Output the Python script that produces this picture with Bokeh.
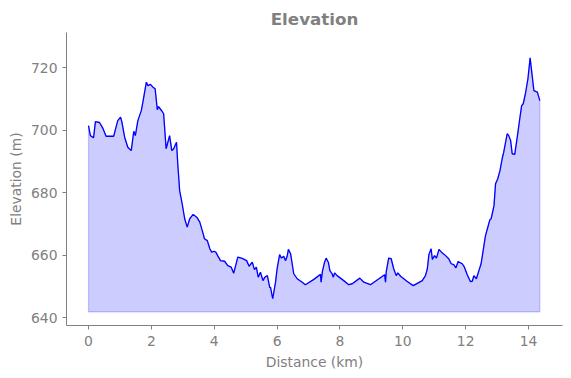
from bokeh.plotting import figure
from bokeh.models import Range1d, FixedTicker
from bokeh.embed import file_html
from bokeh.resources import INLINE

# Distance along the route (km) and elevation (m)
distance_km = [
    0.00, 0.06, 0.16, 0.22, 0.35, 0.45, 0.56, 0.80, 0.88, 0.93, 1.02, 1.06, 1.15, 1.25, 1.36,
    1.44, 1.49, 1.57, 1.68, 1.73, 1.84, 1.89, 1.97, 2.05, 2.12, 2.19, 2.23, 2.34, 2.39, 2.47,
    2.58, 2.65, 2.71, 2.80, 2.84, 2.90, 2.98, 3.06, 3.14, 3.22, 3.33, 3.46, 3.54, 3.62, 3.69,
    3.78, 3.86, 3.92, 3.99, 4.05, 4.11, 4.20, 4.33, 4.43, 4.54, 4.62, 4.75, 4.89, 5.03, 5.11,
    5.21, 5.28, 5.34, 5.40, 5.47, 5.55, 5.61, 5.69, 5.77, 5.79, 5.86, 5.95, 6.00, 6.08, 6.14,
    6.21, 6.27, 6.32, 6.36, 6.43, 6.48, 6.53, 6.64, 6.80, 6.90, 7.17, 7.38, 7.40, 7.44, 7.51,
    7.56, 7.63, 7.68, 7.75, 7.79, 7.83, 7.91, 8.12, 8.28, 8.39, 8.63, 8.76, 8.97, 9.24, 9.42,
    9.45, 9.47, 9.55, 9.63, 9.71, 9.79, 9.84, 9.93, 10.14, 10.33, 10.62, 10.72, 10.78, 10.83,
    10.90, 10.94, 11.01, 11.07, 11.15, 11.23, 11.36, 11.46, 11.54, 11.62, 11.69, 11.76, 11.89,
    11.96, 12.05, 12.15, 12.21, 12.26, 12.34, 12.42, 12.49, 12.58, 12.63, 12.69, 12.77, 12.81,
    12.90, 12.95, 13.02, 13.09, 13.16, 13.21, 13.32, 13.37, 13.43, 13.48, 13.56, 13.64, 13.72,
    13.78, 13.83, 13.90, 13.98, 14.05, 14.17, 14.28, 14.36,
]
elevation_m = [
    701.4, 698.2, 697.5, 702.7, 702.4, 700.7, 698.0, 698.0, 701.1, 703.0, 704.1, 702.7, 697.7, 694.5, 693.4,
    699.6, 698.2, 703.0, 706.2, 708.9, 715.3, 714.2, 714.6, 713.7, 713.2, 706.5, 707.5, 706.0, 705.2, 694.0,
    698.2, 693.4, 694.0, 696.1, 689.2, 680.6, 676.4, 671.6, 668.9, 671.6, 673.0, 671.9, 670.5, 667.8, 665.2,
    664.6, 662.0, 660.9, 661.2, 660.9, 659.8, 658.2, 658.0, 656.6, 656.1, 654.2, 659.3, 658.9, 658.2, 656.4,
    657.7, 655.3, 656.1, 652.9, 654.5, 651.8, 652.9, 653.4, 649.5, 649.7, 646.0, 651.3, 655.6, 660.1, 659.0,
    659.6, 658.2, 659.6, 661.8, 660.4, 657.2, 654.0, 652.4, 651.3, 650.5, 652.2, 653.8, 651.3, 654.7, 657.7,
    659.0, 657.7, 655.0, 654.0, 652.9, 654.3, 653.4, 651.8, 650.5, 650.8, 652.6, 651.3, 650.5, 652.4, 653.7,
    651.3, 654.5, 659.0, 658.8, 655.6, 653.4, 654.3, 653.2, 651.5, 650.2, 651.8, 653.4, 655.6, 660.2,
    662.0, 658.6, 659.8, 659.0, 661.8, 660.9, 659.8, 658.8, 657.2, 656.9, 655.9, 657.9, 657.2,
    656.1, 653.7, 651.5, 651.6, 653.4, 652.4, 655.0, 657.2, 663.0, 666.2, 668.4, 671.3, 671.6,
    675.8, 682.8, 684.4, 687.0, 690.8, 692.9, 698.8, 698.2, 696.6, 692.4, 692.2, 697.7, 703.6,
    707.8, 708.4, 711.6, 716.4, 723.1, 712.6, 712.1, 709.4,
]
fill_base_m = 641.8

x_ticks = [0, 2, 4, 6, 8, 10, 12, 14]
y_ticks = [640, 660, 680, 700, 720]

GRAY = "#808080"
FONT = "DejaVu Sans"

p = figure(
    width=571, height=378,
    output_backend="svg", toolbar_location=None,
    x_range=Range1d(-0.70, 15.08), y_range=Range1d(637.44, 731.2),
    min_border_left=66, min_border_right=9, min_border_top=32, min_border_bottom=53,
    title="Elevation",
)
p.outline_line_color = None
p.background_fill_color = "white"
p.border_fill_color = "white"
p.xgrid.visible = False
p.ygrid.visible = False

p.title.align = "center"
p.title.text_color = GRAY
p.title.text_font = FONT
p.title.text_font_size = "16.7px"
p.title.text_font_style = "bold"
p.title.offset = 0
p.title.standoff = 8

xs = [distance_km[0]] + distance_km + [distance_km[-1]]
ys = [fill_base_m] + elevation_m + [fill_base_m]
p.patch(xs, ys, fill_color="blue", fill_alpha=0.2, line_color="blue", line_alpha=0.2, line_width=1.2)
p.line(distance_km, elevation_m, line_color="blue", line_width=1.3)

for ax in (p.xaxis[0], p.yaxis[0]):
    ax.axis_line_color = GRAY
    ax.axis_line_width = 1
    ax.major_tick_line_color = GRAY
    ax.major_tick_in = 0
    ax.major_tick_out = 4
    ax.minor_tick_line_color = None
    ax.major_label_text_color = GRAY
    ax.major_label_text_font = FONT
    ax.major_label_text_font_size = "13.9px"
    ax.axis_label_text_color = GRAY
    ax.axis_label_text_font = FONT
    ax.axis_label_text_font_size = "13.9px"
    ax.axis_label_text_font_style = "normal"

p.xaxis[0].ticker = FixedTicker(ticks=x_ticks)
p.yaxis[0].ticker = FixedTicker(ticks=y_ticks)
p.xaxis[0].axis_label = "Distance (km)"
p.yaxis[0].axis_label = "Elevation (m)"
p.xaxis[0].major_label_standoff = 6
p.yaxis[0].major_label_standoff = 5
p.xaxis[0].axis_label_standoff = 5
p.yaxis[0].axis_label_standoff = 4

open("out.html", "w").write(file_html(p, INLINE))
